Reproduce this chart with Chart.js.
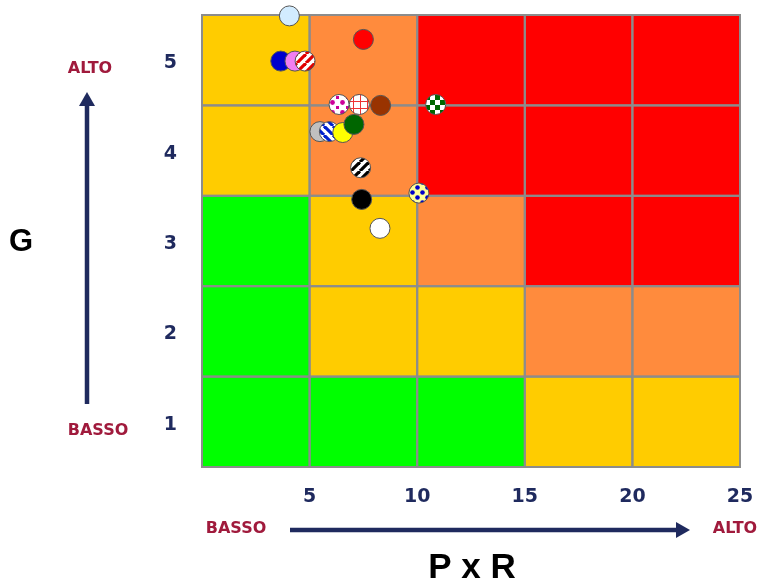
<!DOCTYPE html>
<html lang="it">
<head>
  <meta charset="UTF-8" />
  <title>Matrice di rischio G / P x R</title>
  <script src="https://cdn.jsdelivr.net/npm/chart.js"></script>
  <style>
    body { margin: 0; background: #ffffff; }
    canvas { display: block; }
  </style>
</head>
<body>
  <canvas id="riskChart" width="760" height="583"></canvas>

  <script>
    // ---- data ----
    const pxrTicks = [5, 10, 15, 20, 25];
    const gTicks = [1, 2, 3, 4, 5];
    const pxrBands = [0, 5, 10, 15, 20, 25];
    // risk level per cell: one row per G (1..5), one column per P x R band
    const riskLevels = [
      [1, 1, 1, 2, 2],
      [1, 2, 2, 3, 3],
      [1, 2, 3, 4, 4],
      [2, 3, 4, 4, 4],
      [2, 3, 4, 4, 4]
    ];
    const pointX = [4.06, 7.50, 3.66, 4.32, 4.79, 6.37, 7.31, 8.30, 10.86, 5.48, 5.92, 6.54, 7.06, 7.37, 10.08, 7.42, 8.27];
    const pointY = [5.49, 5.23, 4.99, 4.99, 4.99, 4.51, 4.51, 4.50, 4.51, 4.21, 4.21, 4.20, 4.29, 3.81, 3.53, 3.46, 3.14];

    // ---- styles ----
    const riskColors = { 1: '#00FF00', 2: '#FFCC00', 3: '#FF8B3D', 4: '#FF0000' };
    const markerStyles = ['lightblue', 'red', 'blue', 'violet', 'redStripes', 'magentaDots', 'redPlaid', 'brown',
      'greenCheck', 'grey', 'blueStripes', 'yellow', 'darkgreen', 'blackStripes', 'blueOnYellow', 'black', 'white'];
    const navy = '#1F2A5E';
    const crimson = '#A01A3C';

    function makePattern(size, paint) {
      const c = document.createElement('canvas');
      c.width = size; c.height = size;
      const g = c.getContext('2d');
      paint(g, size);
      return document.getElementById('riskChart').getContext('2d').createPattern(c, 'repeat');
    }
    function stripes(color, dir) {
      return makePattern(9, (g, s) => {
        g.fillStyle = '#fff'; g.fillRect(0, 0, s, s);
        g.strokeStyle = color; g.lineWidth = 3.2;
        for (let k = -1; k <= 1; k++) {
          g.beginPath();
          if (dir > 0) { g.moveTo(k * s, s); g.lineTo(k * s + s, 0); }
          else { g.moveTo(k * s, 0); g.lineTo(k * s + s, s); }
          g.stroke();
        }
      });
    }
    const fills = {
      lightblue: '#D2ECFF', red: '#FF0000', blue: '#0000CC', violet: '#F27EF2', brown: '#993300',
      grey: '#C0C0C0', yellow: '#FFFF00', darkgreen: '#006600', black: '#000000', white: '#FFFFFF',
      redStripes: stripes('#E00000', 1),
      blueStripes: stripes('#0020CC', -1),
      blackStripes: stripes('#000000', 1),
      magentaDots: makePattern(10, (g, s) => {
        g.fillStyle = '#fff'; g.fillRect(0, 0, s, s);
        g.fillStyle = '#CC0099';
        g.beginPath(); g.arc(2.5, 2.5, 2.4, 0, Math.PI * 2); g.fill();
        g.fillRect(6, 6, 3, 3);
      }),
      redPlaid: makePattern(7, (g, s) => {
        g.fillStyle = '#fff'; g.fillRect(0, 0, s, s);
        g.fillStyle = '#EE3333';
        g.fillRect(3, 0, 1, s); g.fillRect(0, 3, s, 1);
      }),
      greenCheck: makePattern(10, (g, s) => {
        g.fillStyle = '#fff'; g.fillRect(0, 0, s, s);
        g.fillStyle = '#006600';
        g.fillRect(0, 0, 5, 5); g.fillRect(5, 5, 5, 5);
      }),
      blueOnYellow: makePattern(10, (g, s) => {
        g.fillStyle = '#FFFF99'; g.fillRect(0, 0, s, s);
        g.fillStyle = '#0000CC';
        g.beginPath(); g.arc(2.5, 2.5, 2.3, 0, Math.PI * 2); g.fill();
        g.beginPath(); g.arc(7.5, 7.5, 2.3, 0, Math.PI * 2); g.fill();
      })
    };

    const cellsPlugin = {
      id: 'cells',
      beforeDatasetsDraw(chart) {
        const { ctx, scales: { x, y } } = chart;
        ctx.save();
        riskLevels.forEach((row, i) => {
          const g = gTicks[i];
          const top = y.getPixelForValue(g + 0.5), bottom = y.getPixelForValue(g - 0.5);
          row.forEach((lvl, j) => {
            const left = x.getPixelForValue(pxrBands[j]), right = x.getPixelForValue(pxrBands[j + 1]);
            ctx.fillStyle = riskColors[lvl];
            ctx.fillRect(left, top, right - left, bottom - top);
          });
        });
        ctx.strokeStyle = '#8C8C8C';
        ctx.lineWidth = 2;
        riskLevels.forEach((row, i) => {
          const g = gTicks[i];
          const top = y.getPixelForValue(g + 0.5), bottom = y.getPixelForValue(g - 0.5);
          row.forEach((lvl, j) => {
            const left = x.getPixelForValue(pxrBands[j]), right = x.getPixelForValue(pxrBands[j + 1]);
            ctx.strokeRect(left, top, right - left, bottom - top);
          });
        });
        ctx.restore();
      }
    };

    function arrow(ctx, x1, y1, x2, y2) {
      const ang = Math.atan2(y2 - y1, x2 - x1);
      const hl = 14, hw = 8;
      ctx.strokeStyle = navy; ctx.fillStyle = navy; ctx.lineWidth = 4.5;
      ctx.beginPath();
      ctx.moveTo(x1, y1);
      ctx.lineTo(x2 - hl * Math.cos(ang), y2 - hl * Math.sin(ang));
      ctx.stroke();
      ctx.beginPath();
      ctx.moveTo(x2, y2);
      ctx.lineTo(x2 - hl * Math.cos(ang) + hw * Math.sin(ang), y2 - hl * Math.sin(ang) - hw * Math.cos(ang));
      ctx.lineTo(x2 - hl * Math.cos(ang) - hw * Math.sin(ang), y2 - hl * Math.sin(ang) + hw * Math.cos(ang));
      ctx.closePath();
      ctx.fill();
    }

    const labelsPlugin = {
      id: 'axisLabels',
      afterDraw(chart) {
        const ctx = chart.ctx;
        ctx.save();
        ctx.textAlign = 'center';
        ctx.textBaseline = 'middle';
        ctx.fillStyle = '#000';
        ctx.font = 'bold 31px "Liberation Sans", Arial, sans-serif';
        ctx.fillText('G', 21, 242);
        ctx.font = 'bold 35px "Liberation Sans", Arial, sans-serif';
        ctx.fillText('P x R', 472, 568);

        ctx.fillStyle = crimson;
        ctx.font = 'bold 16px "DejaVu Sans", Verdana, sans-serif';
        ctx.fillText('ALTO', 90, 69);
        ctx.fillText('BASSO', 98, 431);
        ctx.fillText('BASSO', 236, 529);
        ctx.fillText('ALTO', 735, 529);

        arrow(ctx, 87, 404, 87, 92);
        arrow(ctx, 290, 530, 690, 530);
        ctx.restore();
      }
    };

    const tickFont = { family: '"DejaVu Sans", Verdana, sans-serif', size: 19, weight: 'bold' };
    const noScalePadding = s => { s.paddingTop = 0; s.paddingBottom = 0; s.paddingLeft = 0; s.paddingRight = 0; };

    new Chart(document.getElementById('riskChart'), {
      type: 'scatter',
      data: {
        datasets: [{
          data: pointX.map((v, i) => ({ x: v, y: pointY[i] })),
          pointRadius: 10,
          pointHoverRadius: 10,
          pointBorderWidth: 1,
          pointBorderColor: '#555555',
          pointBackgroundColor: markerStyles.map(k => fills[k]),
          clip: false
        }]
      },
      options: {
        responsive: false,
        animation: false,
        events: [],
        layout: { padding: { top: 15, right: 20, left: 0, bottom: 0 } },
        plugins: { legend: { display: false }, tooltip: { enabled: false } },
        scales: {
          x: {
            type: 'linear', min: 0, max: 25,
            grid: { display: false, drawTicks: false }, border: { display: false },
            afterBuildTicks: s => { s.ticks = pxrTicks.map(v => ({ value: v })); },
            afterFit: s => { s.height = 116; noScalePadding(s); },
            ticks: { color: navy, font: tickFont, padding: 19, maxRotation: 0 }
          },
          y: {
            type: 'linear', min: 0.5, max: 5.5,
            grid: { display: false, drawTicks: false }, border: { display: false },
            afterBuildTicks: s => { s.ticks = gTicks.map(v => ({ value: v })); },
            afterFit: s => { s.width = 202; noScalePadding(s); },
            ticks: { color: navy, font: tickFont, padding: 25, labelOffset: 3 }
          }
        }
      },
      plugins: [cellsPlugin, labelsPlugin]
    });
  </script>
</body>
</html>
